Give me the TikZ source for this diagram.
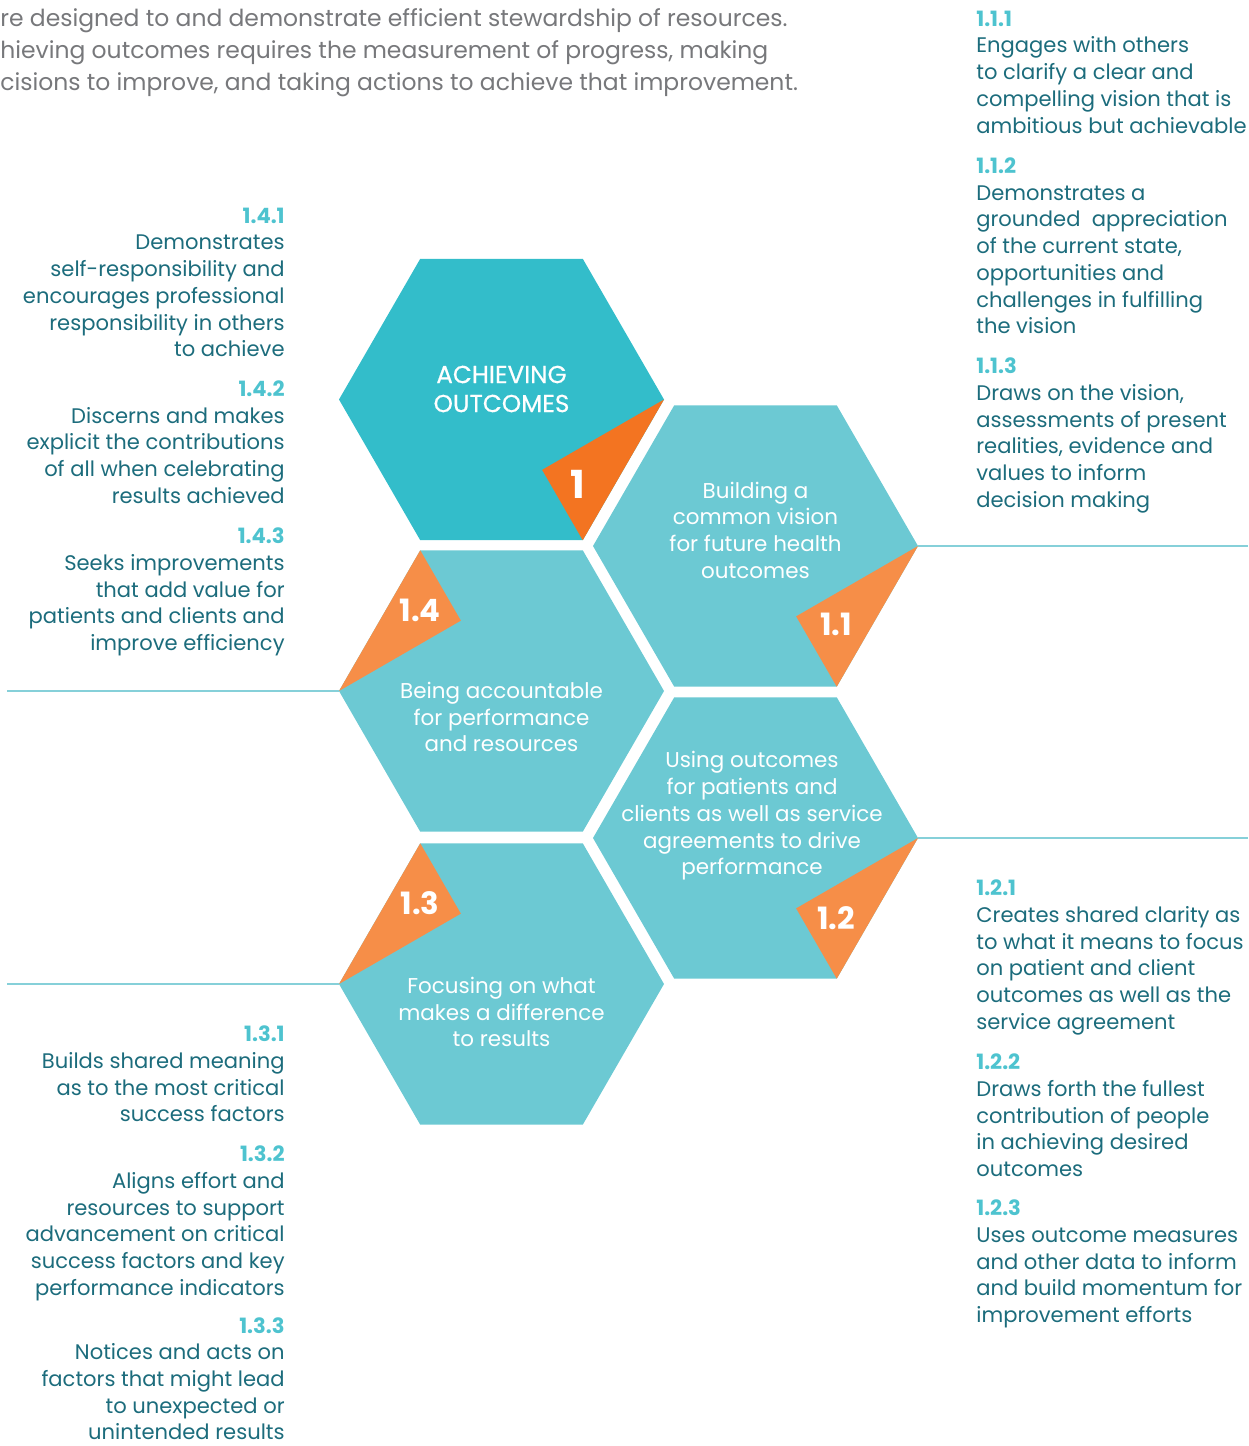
\documentclass[tikz,border=0pt]{standalone}
\usepackage{fontspec}
\setmainfont{Poppins}
\usetikzlibrary{positioning}

\definecolor{hexmain}{HTML}{33BDCA}
\definecolor{hexlite}{HTML}{6CC9D3}
\definecolor{orgdark}{HTML}{F37421}
\definecolor{orglite}{HTML}{F68E48}
\definecolor{bodyteal}{HTML}{1C6C7C}
\definecolor{numteal}{HTML}{4EC3CF}
\definecolor{ruleteal}{HTML}{86D0D9}
\definecolor{introgray}{HTML}{77787B}
\newcommand{\itemno}[1]{{\color{numteal}\bfseries #1}}

\begin{document}
\begin{tikzpicture}[x=0.02cm,y=-0.02cm,
  rblock/.style={anchor=north west,align=left,inner sep=0pt,text=bodyteal,
    font=\fontsize{12}{15.2}\selectfont},
  lblock/.style={anchor=north east,align=right,inner sep=0pt,text=bodyteal,
    font=\fontsize{12}{15.2}\selectfont},
  hexlabel/.style={align=center,inner sep=0pt,text=white,
    font=\fontsize{12.2}{15.2}\selectfont},
  numlabel/.style={inner sep=0pt,text=white,font=\fontsize{17.5}{20}\bfseries},
  rule/.style={draw=ruleteal,line width=0.6pt}]
  \useasboundingbox (0,0) rectangle (1248,1446);

  % intro text, cut at the left edge
  \node[anchor=north west,align=left,inner sep=0pt,text=introgray,
    font=\fontsize{13.35}{18.2}\selectfont] (intro) at (0,8)
    {re designed to and demonstrate efficient stewardship of resources.\\
     hieving outcomes requires the measurement of progress, making\\
     cisions to improve, and taking actions to achieve that improvement.};

  \coordinate (c1)  at (501.5,399.5);  % achieving outcomes
  \coordinate (c11) at (755.5,546);
  \coordinate (c14) at (501.5,691);
  \coordinate (c12) at (755.5,838);
  \coordinate (c13) at (501.5,984);

  % hexagons
  \fill[hexmain] (c1) +(0:162.5) -- +(60:162.5) -- +(120:162.5) -- +(180:162.5) -- +(240:162.5) -- +(300:162.5) -- cycle;
  \fill[hexlite] (c11) +(0:162.5) -- +(60:162.5) -- +(120:162.5) -- +(180:162.5) -- +(240:162.5) -- +(300:162.5) -- cycle;
  \fill[hexlite] (c14) +(0:162.5) -- +(60:162.5) -- +(120:162.5) -- +(180:162.5) -- +(240:162.5) -- +(300:162.5) -- cycle;
  \fill[hexlite] (c12) +(0:162.5) -- +(60:162.5) -- +(120:162.5) -- +(180:162.5) -- +(240:162.5) -- +(300:162.5) -- cycle;
  \fill[hexlite] (c13) +(0:162.5) -- +(60:162.5) -- +(120:162.5) -- +(180:162.5) -- +(240:162.5) -- +(300:162.5) -- cycle;

  % orange corners
  \fill[orgdark] (c1)  +(0:162.5) -- +(60:162.5) -- +(60:81.25) -- cycle;
  \fill[orglite] (c11) +(0:162.5) -- +(60:162.5) -- +(60:81.25) -- cycle;
  \fill[orglite] (c12) +(0:162.5) -- +(60:162.5) -- +(60:81.25) -- cycle;
  \fill[orglite] (c14) +(180:162.5) -- +(240:162.5) -- +(240:81.25) -- cycle;
  \fill[orglite] (c13) +(180:162.5) -- +(240:162.5) -- +(240:81.25) -- cycle;

  \node[numlabel,font=\fontsize{22}{24}\bfseries] (t1) at (578,484) {1};
  \node[numlabel] (t11) at (836,624) {1.1};
  \node[numlabel] (t14) at (420,610) {1.4};
  \node[numlabel] (t12) at (836,918) {1.2};
  \node[numlabel] (t13) at (420,903) {1.3};

  % hexagon texts
  \node[hexlabel,font=\fontsize{14}{16.5}\selectfont\addfontfeature{FakeBold=0.5}] (h1) at (501.5,389) {ACHIEVING\\OUTCOMES};
  \node[hexlabel] (h11) at (755.5,530) {Building a\\common vision\\for future health\\outcomes};
  \node[hexlabel] (h14) at (501.5,717) {Being accountable\\for performance\\and resources};
  \node[hexlabel] (h12) at (752,816) {Using outcomes\\for patients and\\clients as well as service\\agreements to drive\\performance};
  \node[hexlabel] (h13) at (501.5,1012) {Focusing on what\\makes a difference\\to results};

  % rules out to the page edges
  \path (c11) +(0:162.5) coordinate (v11);
  \path (c12) +(0:162.5) coordinate (v12);
  \path (c14) +(180:162.5) coordinate (v14);
  \path (c13) +(180:162.5) coordinate (v13);
  \coordinate (e11) at (1248,546);
  \coordinate (e12) at (1248,838);
  \coordinate (e14) at (7,691);
  \coordinate (e13) at (7,984);
  \draw[rule] (v11) -- (e11);
  \draw[rule] (v12) -- (e12);
  \draw[rule] (v14) -- (e14);
  \draw[rule] (v13) -- (e13);

  % right column
  \node[rblock] (n111) at (976,10.5) {\itemno{1.1.1}\\Engages with others\\to clarify a clear and\\compelling vision that is\\ambitious but achievable};
  \node[rblock] (n112) at (976,157.5) {\itemno{1.1.2}\\Demonstrates a\\grounded\ \ appreciation\\of the current state,\\opportunities and\\challenges in fulfilling\\the vision};
  \node[rblock] (n113) at (976,357.5) {\itemno{1.1.3}\\Draws on the vision,\\assessments of present\\realities, evidence and\\values to inform\\decision making};
  \node[rblock] (n121) at (976,879.5) {\itemno{1.2.1}\\Creates shared clarity as\\to what it means to focus\\on patient and client\\outcomes as well as the\\service agreement};
  \node[rblock] (n122) at (976,1053.5) {\itemno{1.2.2}\\Draws forth the fullest\\contribution of people\\in achieving desired\\outcomes};
  \node[rblock] (n123) at (976,1199.5) {\itemno{1.2.3}\\Uses outcome measures\\and other data to inform\\and build momentum for\\improvement efforts};

  % left column
  \node[lblock] (n141) at (285,207.5) {\itemno{1.4.1}\\Demonstrates\\self-responsibility and\\encourages professional\\responsibility in others\\to achieve};
  \node[lblock] (n142) at (285,380.5) {\itemno{1.4.2}\\Discerns and makes\\explicit the contributions\\of all when celebrating\\results achieved};
  \node[lblock] (n143) at (285,527.5) {\itemno{1.4.3}\\Seeks improvements\\that add value for\\patients and clients and\\improve efficiency};
  \node[lblock] (n131) at (285,1025.5) {\itemno{1.3.1}\\Builds shared meaning\\as to the most critical\\success factors};
  \node[lblock] (n132) at (285,1145.5) {\itemno{1.3.2}\\Aligns effort and\\resources to support\\advancement on critical\\success factors and key\\performance indicators};
  \node[lblock] (n133) at (285,1317) {\itemno{1.3.3}\\Notices and acts on\\factors that might lead\\to unexpected or\\unintended results};
\end{tikzpicture}
\end{document}
